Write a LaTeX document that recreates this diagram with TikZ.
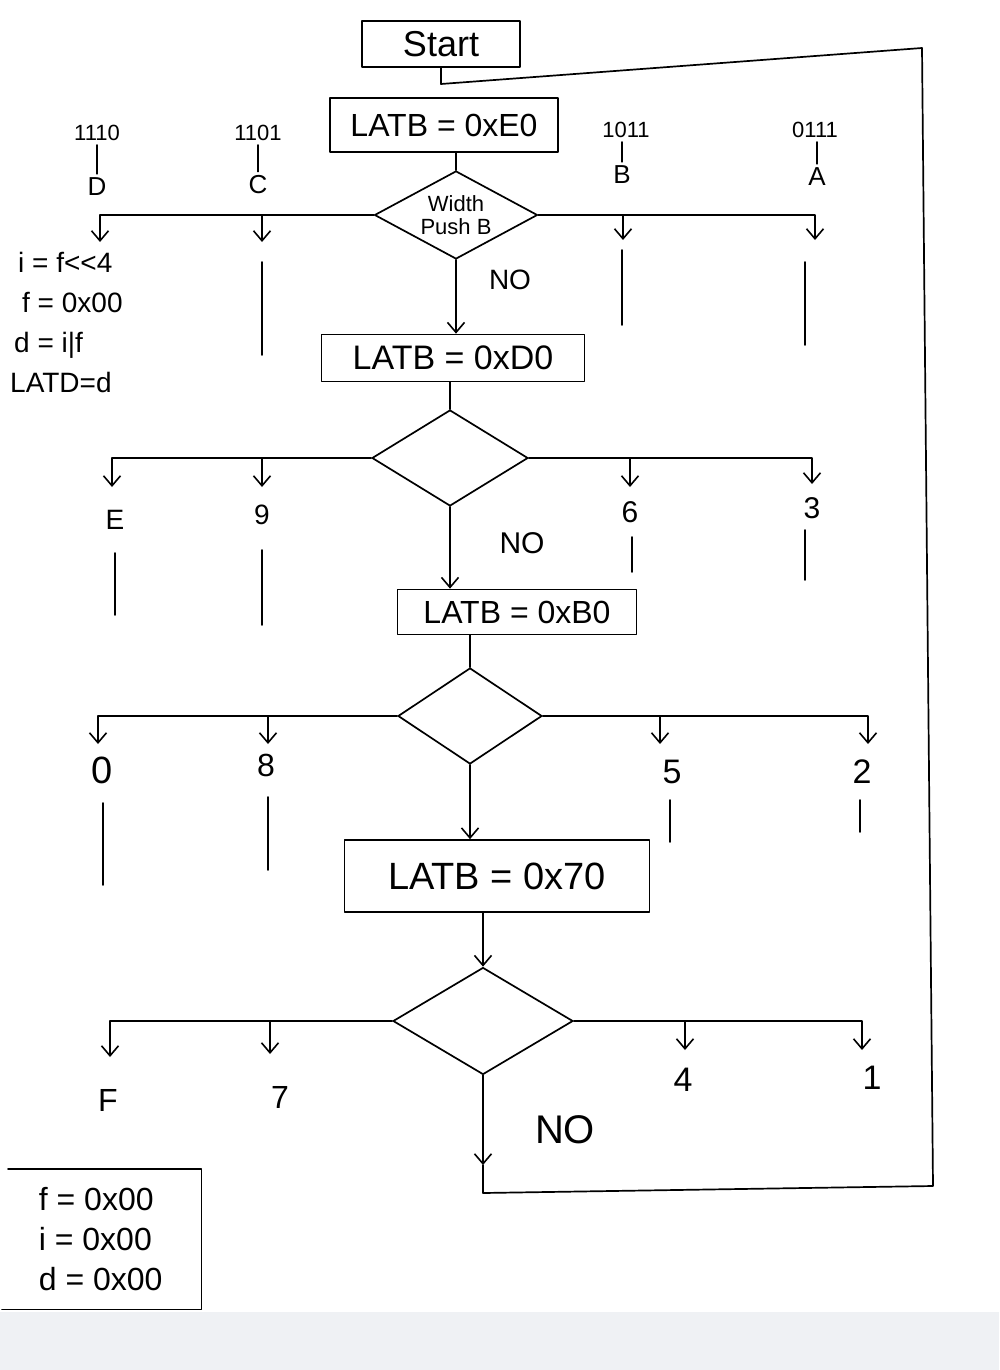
\documentclass[tikz,border=0pt]{standalone}
\usepackage{fontspec}
\setmainfont{Liberation Sans}
\usetikzlibrary{shapes.geometric,arrows.meta}
\definecolor{strip}{RGB}{239,241,244}
\begin{document}
\begin{tikzpicture}[x=1pt,y=-1pt,
  ln/.style={line width=1.7pt, line cap=round, line join=round},
  arr/.style={ln,-{Straight Barb[length=10pt,width=17pt,line width=1.6pt]}},
  box/.style={draw,ln,rectangle,inner sep=0pt},
  dia/.style={draw,ln,diamond,inner sep=0pt,aspect=1.8},
  bin/.style={inner sep=4pt,font=\fontsize{22}{22}\selectfont},
  let/.style={inner sep=4pt,font=\fontsize{26}{26}\selectfont},
  dig/.style={inner sep=2pt,font=\fontsize{30}{30}\selectfont},
]
\useasboundingbox (0,0) rectangle (999,1370);
\fill[strip] (0,1312) rectangle (999,1370);

% ---------- Start and first box ----------
\node[box,minimum width=158pt,minimum height=46pt,font=\fontsize{36}{40}\selectfont] (start) at (441,44) {Start};
\coordinate (jTop) at (441,84);
\draw[ln] (start.south) -- (jTop);

\node[box,minimum width=228pt,minimum height=54pt,font=\fontsize{32}{36}\selectfont] (b1) at (444,125) {LATB = 0xE0};
\node[dia,minimum width=163pt,minimum height=88pt,align=center,font=\fontsize{22}{23}\selectfont] (d1) at (456,215) {Width\\Push B};
\draw[ln] (b1.south -| d1.north) -- (d1.north);

% labels row 1
\node[bin] (n1110) at (97,133) {1110};
\node[let] (lD) at (97,187) {D};
\node[bin] (n1101) at (258,133) {1101};
\node[let] (lC) at (258,185) {C};
\node[bin] (n1011) at (626,130) {1011};
\node[let] (lB) at (622,175) {B};
\node[bin] (n0111) at (815,130) {0111};
\node[let] (lA) at (817,177) {A};
\draw[ln] (lD.north |- n1110.south) -- (lD.north);
\draw[ln] (lC.north |- n1101.south) -- (lC.north);
\draw[ln] (lB.north |- n1011.south) -- (lB.north);
\draw[ln] (lA.north |- n0111.south) -- (lA.north);

\coordinate (tD) at (100,242);
\coordinate (tC) at (262,242);
\coordinate (tB) at (623,240);
\coordinate (tA) at (815,240);
\draw[arr] (d1.west) -| (tD);
\draw[arr] (d1.west -| tC) -- (tC);
\draw[arr] (d1.east) -| (tA);
\draw[arr] (d1.east -| tB) -- (tB);

\node[anchor=north west,align=left,inner sep=0pt,font=\fontsize{28}{40}\selectfont] (codeD) at (10,252)
  {\hspace{8pt}i = f<{}<4\\\hspace{12pt}f = 0x00\\\hspace{4pt}d = i|f\\LATD=d};

\foreach \x/\a/\b in {262/262/355, 622/250/325, 805/262/345}
  \draw[ln] (\x,\a) -- (\x,\b);

\node[font=\fontsize{28}{28}\selectfont] (no1) at (510,280) {NO};

% ---------- second box ----------
\node[box,minimum width=263pt,minimum height=47pt,font=\fontsize{34}{38}\selectfont] (b2) at (453,358) {LATB = 0xD0};
\draw[arr] (d1.south) -- (d1.south |- b2.north);

\node[dia,minimum width=156pt,minimum height=96pt] (d2) at (450,458) {};
\draw[ln] (d2.north |- b2.south) -- (d2.north);

\node[dig,font=\fontsize{28}{28}\selectfont] (lE) at (115,520) {E};
\node[dig,font=\fontsize{28}{28}\selectfont] (l9) at (262,515) {9};
\node[dig,font=\fontsize{30}{30}\selectfont] (l6) at (630,512) {6};
\node[dig,font=\fontsize{30}{30}\selectfont] (l3) at (812,508) {3};
\coordinate (tE) at (112,487);
\coordinate (t9) at (262,487);
\coordinate (t6) at (630,487);
\coordinate (t3) at (812,484);
\draw[arr] (d2.west) -| (tE);
\draw[arr] (d2.west -| t9) -- (t9);
\draw[arr] (d2.east) -| (t3);
\draw[arr] (d2.east -| t6) -- (t6);
\foreach \x/\a/\b in {115/553/615, 262/550/625, 632/537/572, 805/530/580}
  \draw[ln] (\x,\a) -- (\x,\b);

\node[font=\fontsize{30}{30}\selectfont] (no2) at (522,543) {NO};

% ---------- third box ----------
\node[box,minimum width=239pt,minimum height=45pt,font=\fontsize{32}{36}\selectfont] (b3) at (517,612) {LATB = 0xB0};
\draw[arr] (d2.south) -- (d2.south |- b3.north);

\node[dia,minimum width=144pt,minimum height=96pt] (d3) at (470,716) {};
\draw[ln] (d3.north |- b3.south) -- (d3.north);

\node[dig,font=\fontsize{38}{38}\selectfont] (l0) at (102,770) {0};
\node[dig,font=\fontsize{32}{32}\selectfont] (l8) at (266,765) {8};
\node[dig,font=\fontsize{34}{34}\selectfont] (l5) at (672,772) {5};
\node[dig,font=\fontsize{34}{34}\selectfont] (l2) at (862,772) {2};
\coordinate (t0) at (98,744);
\coordinate (t8) at (268,744);
\coordinate (t5) at (660,744);
\coordinate (t2) at (868,744);
\draw[arr] (d3.west) -| (t0);
\draw[arr] (d3.west -| t8) -- (t8);
\draw[arr] (d3.east) -| (t2);
\draw[arr] (d3.east -| t5) -- (t5);
\foreach \x/\a/\b in {103/803/885, 268/797/870, 670/800/842, 860/800/832}
  \draw[ln] (\x,\a) -- (\x,\b);

% ---------- fourth box ----------
\node[box,minimum width=305pt,minimum height=72pt,font=\fontsize{38}{42}\selectfont] (b4) at (497,876) {LATB = 0x70};
\draw[arr] (d3.south) -- (d3.south |- b4.north);

\node[dia,minimum width=180pt,minimum height=107pt] (d4) at (483,1021) {};
\draw[arr] (d4.north |- b4.south) -- (d4.north);

\node[dig,font=\fontsize{32}{32}\selectfont] (lF) at (108,1100) {F};
\node[dig,font=\fontsize{32}{32}\selectfont] (l7) at (280,1097) {7};
\node[dig,font=\fontsize{34}{34}\selectfont] (l4) at (683,1080) {4};
\node[dig,font=\fontsize{34}{34}\selectfont] (l1) at (872,1078) {1};
\coordinate (tF) at (110,1057);
\coordinate (t7) at (270,1054);
\coordinate (t4) at (685,1050);
\coordinate (t1) at (862,1050);
\draw[arr] (d4.west) -| (tF);
\draw[arr] (d4.west -| t7) -- (t7);
\draw[arr] (d4.east) -| (t1);
\draw[arr] (d4.east -| t4) -- (t4);

\node[font=\fontsize{40}{40}\selectfont] (no4) at (565,1130) {NO};
\coordinate (noTip) at (483,1165);
\coordinate (loopBL) at (483,1193);
\coordinate (loopBR) at (933,1186);
\coordinate (loopTR) at (922,48);
\draw[arr] (d4.south) -- (noTip);
\draw[ln] (noTip) -- (loopBL) -- (loopBR) -- (loopTR) -- (jTop);

% ---------- initial values box ----------
\node[inner sep=0pt,minimum width=201pt,minimum height=140pt,anchor=north west,align=left,font=\fontsize{32}{40}\selectfont] (mem) at (0,1169)
  {f = 0x00\\i = 0x00\\d = 0x00};
\draw[ln] ([xshift=8pt]mem.north west) -- (mem.north east) -- (mem.south east) -- ([xshift=2pt]mem.south west);
\end{tikzpicture}
\end{document}
